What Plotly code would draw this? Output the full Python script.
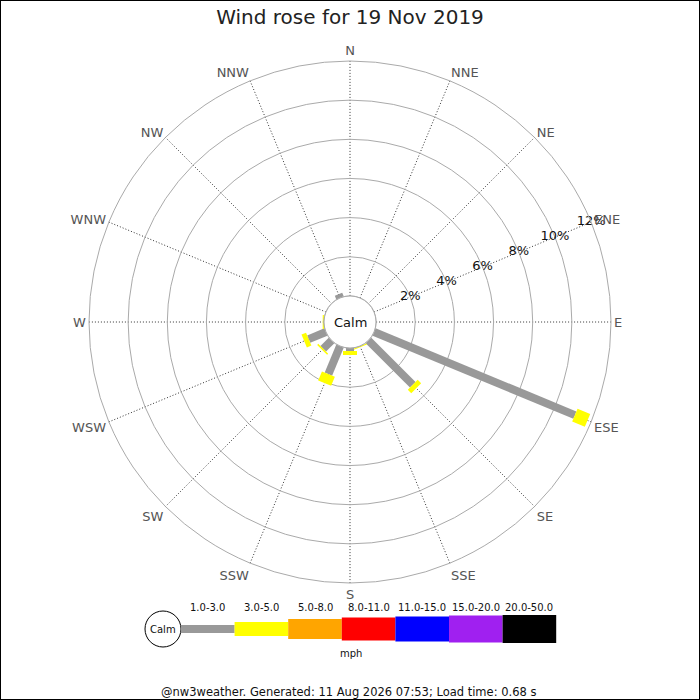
"""
Wind rose for 19 Nov 2019 - nw3weather style, redrawn with plotly.
"""

import plotly.graph_objects as go

# ---------------------------------------------------------------------------
# Data
# ---------------------------------------------------------------------------
directions = ["N", "NNE", "NE", "ENE", "E", "ESE", "SE", "SSE",
              "S", "SSW", "SW", "WSW", "W", "WNW", "NW", "NNW"]

# percent of time in each speed band (not cumulative)
pct_1_3 = [0.0, 0.0, 0.0, 0.0, 0.0, 11.1, 3.2, 0.0,
           0.15, 1.55, 0.6, 0.95, 0.0, 0.0, 0.0, 0.2]
pct_3_5 = [0.0, 0.0, 0.0, 0.0, 0.0, 0.7, 0.25, 0.06,
           0.2, 0.5, 0.08, 0.25, 0.06, 0.0, 0.0, 0.0]

radial_ticks = [2, 4, 6, 8, 10, 12]
radial_labels = ["2%", "4%", "6%", "8%", "10%", "12%"]

speed_bins = ["1.0-3.0", "3.0-5.0", "5.0-8.0", "8.0-11.0",
              "11.0-15.0", "15.0-20.0", "20.0-50.0"]
bin_colors = ["#999999", "#ffff00", "#ffa500", "#ff0000",
              "#0000ff", "#a020f0", "#000000"]
bin_widths = [8, 14, 20, 23, 25, 27, 28]

TITLE = "Wind rose for 19 Nov 2019"
FOOTER = "@nw3weather. Generated: 11 Aug 2026 07:53; Load time: 0.68 s"

FONT = "DejaVu Sans"
W = H = 700


def px(x):
    return x / W


def py(y):
    return 1 - y / H


def note(text, x, y, size, color="#111111"):
    return dict(text=text, x=px(x), y=py(y), xref="paper", yref="paper",
                xanchor="center", yanchor="middle", showarrow=False,
                font=dict(family=FONT, size=size, color=color))


# ---------------------------------------------------------------------------
# Figure
# ---------------------------------------------------------------------------
fig = go.Figure()

# one thick line per band and direction, stacked outward
for d, lo, hi in zip(directions, pct_1_3, pct_3_5):
    if lo > 0:
        fig.add_trace(go.Scatterpolar(
            r=[0, lo], theta=[d, d], mode="lines",
            line=dict(color=bin_colors[0], width=bin_widths[0]),
            hoverinfo="skip", showlegend=False,
        ))
    if hi > 0:
        fig.add_trace(go.Scatterpolar(
            r=[lo, lo + hi], theta=[d, d], mode="lines",
            line=dict(color=bin_colors[1], width=bin_widths[1]),
            hoverinfo="skip", showlegend=False,
        ))

# radial labels sit on the ENE spoke
fig.add_trace(go.Scatterpolar(
    r=radial_ticks, theta=["ENE"] * len(radial_ticks), mode="text",
    text=radial_labels, textfont=dict(family=FONT, size=13, color="#111111"),
    hoverinfo="skip", showlegend=False,
))

cx, cy, R = 350, 322, 261
fig.update_layout(
    width=W, height=H,
    margin=dict(l=0, r=0, t=0, b=0),
    paper_bgcolor="white",
    font=dict(family=FONT),
    title=dict(text=TITLE, x=0.5, xanchor="center", y=py(17), yanchor="middle",
               font=dict(family=FONT, size=20, color="#222222")),
    polar=dict(
        domain=dict(x=[px(cx - R), px(cx + R)], y=[py(cy + R), py(cy - R)]),
        hole=0.1,
        bgcolor="white",
        angularaxis=dict(
            type="category", categoryarray=directions,
            rotation=90, direction="clockwise",
            showgrid=True, gridcolor="#333333", gridwidth=1, griddash="1px,2px",
            showline=True, linecolor="#aaaaaa", linewidth=1,
            ticks="", tickfont=dict(family=FONT, size=13, color="#555555"),
        ),
        radialaxis=dict(
            range=[0, 12], tickvals=radial_ticks,
            showticklabels=False, ticks="", showline=False,
            gridcolor="#aaaaaa", gridwidth=1,
        ),
    ),
)

shapes = []
annotations = []

# calm circle in the middle
shapes.append(dict(type="circle", xref="paper", yref="paper",
                   x0=px(cx - 26), x1=px(cx + 26), y0=py(cy + 26), y1=py(cy - 26),
                   line=dict(color="#aaaaaa", width=1), fillcolor="white", layer="above"))
annotations.append(note("Calm", cx, cy, 13))

# ---------------------------------------------------------------------------
# Speed key
# ---------------------------------------------------------------------------
key_x0, key_y, seg = 181, 629, 53.6
shapes.append(dict(type="circle", xref="paper", yref="paper",
                   x0=px(145), x1=px(181), y0=py(key_y + 18), y1=py(key_y - 18),
                   line=dict(color="#000000", width=1), fillcolor="white"))
annotations.append(note("Calm", 163, key_y, 10))
for i, (lab, col, wd) in enumerate(zip(speed_bins, bin_colors, bin_widths)):
    x0 = key_x0 + i * seg
    shapes.append(dict(type="rect", xref="paper", yref="paper",
                       x0=px(x0), x1=px(x0 + seg),
                       y0=py(key_y + wd / 2), y1=py(key_y - wd / 2),
                       line=dict(width=0), fillcolor=col))
    annotations.append(note(lab, x0 + seg / 2, 607, 10))
annotations.append(note("mph", 351, 653, 10))
annotations.append(note(FOOTER, 348, 692, 11.5))

# frame round the whole picture
shapes.append(dict(type="rect", xref="paper", yref="paper", x0=0, x1=1, y0=0, y1=1,
                   line=dict(color="#000000", width=2)))

fig.update_layout(shapes=shapes, annotations=annotations)
fig.write_html("out.html", config={"displayModeBar": False},
               post_script="document.body.style.margin='0';")
